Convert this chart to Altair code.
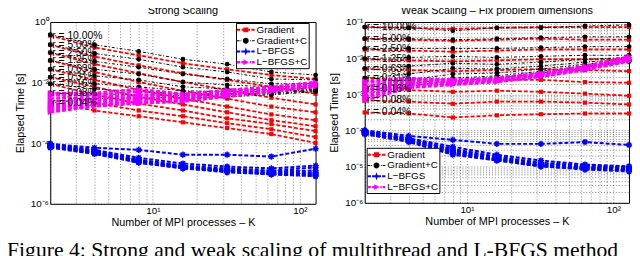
import altair as alt
import pandas as pd

# ---------------- data (log10 of elapsed time in seconds) ----------------
K = [2, 4, 8, 16, 32, 64, 128]
R_LABELS = ["r = 10.00%", "r = 5.00%", "r = 2.50%", "r = 1.25%", "r = 0.63%",
            "r = 0.31%", "r = 0.16%", "r = 0.08%", "r = 0.04%"]
SERIES = ["Gradient", "Gradient+C", "L\u2212BFGS", "L\u2212BFGS+C"]
COLORS = ["#ff0000", "#000000", "#0000ff", "#ff00ff"]

strong_grad = [
    [-0.45, -0.84, -1.10, -1.36, -1.56, -1.75, -1.88],
    [-0.75, -1.14, -1.43, -1.69, -1.91, -2.14, -2.37],
    [-1.01, -1.39, -1.69, -1.98, -2.24, -2.50, -2.72],
    [-1.27, -1.65, -1.98, -2.27, -2.53, -2.79, -2.98],
    [-1.56, -1.91, -2.24, -2.53, -2.79, -3.05, -3.24],
    [-1.82, -2.14, -2.47, -2.72, -2.98, -3.24, -3.44],
    [-2.04, -2.40, -2.69, -2.92, -3.18, -3.37, -3.60],
    [-2.34, -2.66, -2.92, -3.11, -3.34, -3.54, -3.80],
    [-2.66, -2.92, -3.11, -3.31, -3.50, -3.70, -3.99],
]
strong_gradc = [
    [-0.42, -0.75, -0.97, -1.23, -1.39, -1.65, -1.75],
    [-0.75, -1.04, -1.23, -1.49, -1.65, -1.88, -1.91],
    [-1.01, -1.30, -1.49, -1.72, -1.88, -2.04, -2.04],
    [-1.27, -1.56, -1.72, -1.98, -2.08, -2.14, -2.11],
    [-1.56, -1.78, -1.91, -2.14, -2.21, -2.24, -2.17],
    [-1.82, -2.04, -2.14, -2.27, -2.30, -2.30, -2.21],
    [-2.04, -2.21, -2.30, -2.37, -2.37, -2.34, -2.24],
    [-2.34, -2.37, -2.40, -2.43, -2.40, -2.37, -2.27],
    [-2.66, -2.53, -2.50, -2.50, -2.47, -2.40, -2.30],
]
strong_lbfgs = [
    [-4.02, -4.15, -4.22, -4.38, -4.38, -4.44, -4.18],
    [-4.02, -4.22, -4.48, -4.67, -4.77, -4.83, -4.74],
    [-4.05, -4.25, -4.54, -4.74, -4.83, -4.90, -4.80],
    [-4.05, -4.28, -4.57, -4.77, -4.87, -4.93, -4.90],
    [-4.09, -4.28, -4.57, -4.77, -4.90, -4.96, -4.96],
    [-4.09, -4.31, -4.61, -4.80, -4.90, -5.00, -5.00],
    [-4.12, -4.31, -4.61, -4.80, -4.93, -5.00, -5.03],
    [-4.12, -4.35, -4.64, -4.83, -4.93, -5.03, -5.06],
    [-4.15, -4.35, -4.64, -4.83, -4.96, -5.03, -5.09],
]
strong_lbfgsc = [
    [-2.34, -2.34, -2.21, -2.37, -2.24, -2.14, -1.98],
    [-2.43, -2.40, -2.30, -2.40, -2.27, -2.17, -2.01],
    [-2.53, -2.47, -2.40, -2.43, -2.30, -2.21, -2.04],
    [-2.63, -2.53, -2.47, -2.47, -2.34, -2.21, -2.04],
    [-2.72, -2.59, -2.53, -2.50, -2.37, -2.24, -2.08],
    [-2.79, -2.66, -2.56, -2.53, -2.40, -2.27, -2.08],
    [-2.85, -2.72, -2.63, -2.56, -2.40, -2.27, -2.11],
    [-2.92, -2.76, -2.66, -2.59, -2.43, -2.30, -2.11],
    [-2.98, -2.79, -2.69, -2.63, -2.47, -2.30, -2.14],
]

weak_grad = [
    [-1.14, -1.16, -1.19, -1.16, -1.14, -1.14, -1.14],
    [-1.46, -1.49, -1.52, -1.49, -1.46, -1.49, -1.49],
    [-1.76, -1.79, -1.82, -1.79, -1.76, -1.76, -1.76],
    [-2.03, -2.06, -2.09, -2.06, -2.03, -2.03, -2.03],
    [-2.30, -2.33, -2.36, -2.33, -2.30, -2.33, -2.36],
    [-2.55, -2.58, -2.63, -2.60, -2.60, -2.66, -2.68],
    [-2.85, -2.88, -2.93, -2.90, -2.93, -2.98, -3.04],
    [-3.17, -3.20, -3.26, -3.20, -3.20, -3.23, -3.28],
    [-3.50, -3.53, -3.64, -3.58, -3.55, -3.53, -3.53],
]
weak_gradc = [
    [-1.14, -1.16, -1.24, -1.16, -1.16, -1.11, -1.08],
    [-1.46, -1.46, -1.49, -1.46, -1.43, -1.41, -1.41],
    [-1.73, -1.73, -1.73, -1.73, -1.71, -1.68, -1.68],
    [-2.01, -1.98, -1.95, -1.98, -1.95, -1.92, -1.92],
    [-2.28, -2.22, -2.14, -2.17, -2.11, -2.03, -1.98],
    [-2.55, -2.44, -2.28, -2.30, -2.22, -2.11, -2.03],
    [-2.77, -2.60, -2.44, -2.41, -2.30, -2.17, -2.06],
    [-2.90, -2.71, -2.55, -2.49, -2.36, -2.22, -2.09],
    [-2.98, -2.77, -2.63, -2.55, -2.41, -2.25, -2.09],
]
weak_lbfgs = [
    [-3.99, -4.15, -4.26, -4.37, -4.37, -4.32, -4.40],
    [-4.02, -4.21, -4.45, -4.67, -4.83, -4.94, -4.99],
    [-4.02, -4.23, -4.51, -4.72, -4.89, -4.97, -5.02],
    [-4.04, -4.23, -4.53, -4.75, -4.91, -4.99, -5.05],
    [-4.04, -4.26, -4.56, -4.78, -4.94, -5.02, -5.08],
    [-4.07, -4.26, -4.59, -4.80, -4.97, -5.02, -5.08],
    [-4.07, -4.29, -4.61, -4.80, -4.97, -5.05, -5.10],
    [-4.10, -4.29, -4.64, -4.83, -4.99, -5.05, -5.10],
    [-4.10, -4.32, -4.67, -4.83, -4.99, -5.08, -5.13],
]
weak_lbfgsc = [
    [-2.63, -2.55, -2.60, -2.55, -2.41, -2.22, -1.95],
    [-2.68, -2.58, -2.60, -2.55, -2.41, -2.22, -1.98],
    [-2.77, -2.60, -2.63, -2.58, -2.44, -2.25, -1.98],
    [-2.82, -2.63, -2.66, -2.58, -2.44, -2.25, -2.01],
    [-2.90, -2.66, -2.66, -2.60, -2.47, -2.28, -2.03],
    [-2.96, -2.71, -2.68, -2.60, -2.47, -2.28, -2.03],
    [-3.04, -2.74, -2.71, -2.63, -2.49, -2.30, -2.06],
    [-3.09, -2.79, -2.71, -2.63, -2.49, -2.30, -2.06],
    [-3.17, -2.82, -2.74, -2.66, -2.52, -2.33, -2.09],
]

X_GRID = [2, 3, 4, 5, 6, 7, 8, 9, 10, 20, 30, 40, 50, 60, 70, 80, 90, 100]
X_EXPR = "datum.value == 10 ? '10\u00b9' : (datum.value == 100 ? '10\u00b2' : '')"
Y_GRID_STRONG = [1e-6, 1e-4, 1e-2, 1.0]
Y_EXPR_STRONG = ("datum.value > 0.5 ? '10\u2070' : (datum.value > 0.005 ? '10\u207b\u00b2' : "
                 "(datum.value > 0.00005 ? '10\u207b\u2074' : '10\u207b\u2076'))")
Y_GRID_WEAK = [float(f"{k}e{e}") for e in range(-6, -1) for k in range(1, 10)] + [0.1]
Y_EXPR_WEAK = ("datum.value == 1e-6 ? '10\u207b\u2076' : datum.value == 1e-5 ? '10\u207b\u2075' : "
               "datum.value == 1e-4 ? '10\u207b\u2074' : datum.value == 1e-3 ? '10\u207b\u00b3' : "
               "datum.value == 1e-2 ? '10\u207b\u00b2' : datum.value == 0.1 ? '10\u207b\u00b9' : ''")

CAPTION = "Figure 4: Strong and weak scaling of multithread and L-BFGS method"
FONT = "Liberation Sans"

ASTERISK = "M-1,0L1,0M0,-1L0,1M-0.7,-0.7L0.7,0.7M-0.7,0.7L0.7,-0.7"
STYLE = {
    SERIES[0]: dict(color=COLORS[0], dash=[4, 2], width=1.8, shape="square", size=18, filled=True),
    SERIES[1]: dict(color=COLORS[1], dash=[3, 2, 1, 2], width=1.0, shape="circle", size=24, filled=True),
    SERIES[2]: dict(color=COLORS[2], dash=[4, 2], width=2.0, shape=ASTERISK, size=40, filled=False),
    SERIES[3]: dict(color=COLORS[3], dash=[4, 2], width=2.5, shape="triangle-right", size=34, filled=True),
}
# legend samples (line + marker); unit = 6 px, sample spans 18 px
LEGEND_PATHS = [
    "M-1.5,-0.17H-0.95V0.17H-1.5Z M-0.7,-0.17H-0.15V0.17H-0.7Z M0.15,-0.17H0.7V0.17H0.15Z "
    "M0.95,-0.17H1.5V0.17H0.95Z M-0.42,-0.42H0.42V0.42H-0.42Z",
    "M-1.5,-0.085H-1.05V0.085H-1.5Z M-0.9,-0.085H-0.75V0.085H-0.9Z M0.75,-0.085H0.9V0.085H0.75Z "
    "M1.05,-0.085H1.5V0.085H1.05Z M-0.5,0A0.5,0.5 0 1,1 0.5,0A0.5,0.5 0 1,1 -0.5,0Z",
    "M-1.5,-0.17H-0.95V0.17H-1.5Z M0.95,-0.17H1.5V0.17H0.95Z M-0.75,-0.17H0.75V0.17H-0.75Z "
    "M0,-0.7L0.18,-0.18L0.7,0L0.18,0.18L0,0.7L-0.18,0.18L-0.7,0L-0.18,-0.18Z",
    "M-1.5,-0.2H-0.95V0.2H-1.5Z M-0.75,-0.2H-0.3V0.2H-0.75Z M0.65,-0.2H0.9V0.2H0.65Z "
    "M1.05,-0.2H1.5V0.2H1.05Z M-0.38,-0.5L0.52,0L-0.38,0.5Z",
]


def long_df(curve_sets):
    rows = []
    for s, curves in zip(SERIES, curve_sets):
        for i, c in enumerate(curves):
            for k, e in zip(K, c):
                rows.append({"series": s, "curve": i, "K": k, "time": 10.0 ** e})
    return pd.DataFrame(rows)


def label_df(grad_curves):
    return pd.DataFrame({"K": [K[0]] * len(R_LABELS),
                         "time": [10.0 ** c[0] for c in grad_curves],
                         "label": R_LABELS})


def panel(df, labs, title, ydom, yvals, yexpr, lx, ly, w, h):
    x = alt.X("K:Q", scale=alt.Scale(type="log", domain=[2, 128], nice=False),
              axis=alt.Axis(values=X_GRID, labelExpr=X_EXPR,
                            title="Number of MPI processes \u2013 K"))
    y = alt.Y("time:Q", scale=alt.Scale(type="log", domain=ydom, nice=False),
              axis=alt.Axis(values=yvals, labelExpr=yexpr, title="Elapsed Time [s]",
                            titlePadding=5))
    base = alt.Chart(df).encode(x=x, y=y)
    layers = []
    for s in SERIES:
        st = STYLE[s]
        sub = base.transform_filter(alt.datum.series == s)
        layers.append(sub.mark_line(color=st["color"], strokeDash=st["dash"],
                                    strokeWidth=st["width"]).encode(detail="curve:N"))
        layers.append(sub.mark_point(shape=st["shape"], size=st["size"], filled=st["filled"],
                                     color=st["color"], opacity=1, strokeWidth=1.5))
    labels = alt.Chart(labs).mark_text(align="left", baseline="middle", dx=2, fontSize=10.5,
                                       font=FONT, color="black").encode(x=x, y=y, text="label:N")
    leg = alt.Legend(orient="none", legendX=lx, legendY=ly, title=None,
                     strokeColor="black", fillColor="white", padding=1,
                     labelFont=FONT, labelFontSize=10, labelColor="black", labelOffset=5,
                     symbolSize=144, symbolOffset=3, symbolStrokeWidth=0, rowPadding=0,
                     cornerRadius=0)
    legend_layer = alt.Chart(df).transform_filter("false").mark_point(filled=True, opacity=1).encode(
        x=x, y=y,
        color=alt.Color("series:N", scale=alt.Scale(domain=SERIES, range=COLORS), legend=leg),
        shape=alt.Shape("series:N", scale=alt.Scale(domain=SERIES, range=LEGEND_PATHS), legend=leg),
    )
    return alt.layer(*layers, labels, legend_layer).properties(
        width=w, height=h,
        title=alt.TitleParams(title, font=FONT, fontSize=11, fontWeight="normal",
                              color="black", offset=1))


strong_df = long_df([strong_grad, strong_gradc, strong_lbfgs, strong_lbfgsc])
weak_df = long_df([weak_grad, weak_gradc, weak_lbfgs, weak_lbfgsc])

left = panel(strong_df, label_df(strong_grad), "Strong Scaling", [1e-6, 1.0],
             Y_GRID_STRONG, Y_EXPR_STRONG, 189, 1, 270, 185)
right = panel(weak_df, label_df(weak_grad), "Weak Scaling \u2013 Fix problem dimensions",
              [1e-6, 0.1], Y_GRID_WEAK, Y_EXPR_WEAK, 2, 128, 269, 184)

chart = alt.hconcat(left, right, spacing=6).resolve_scale(
    color="independent", shape="independent"
).resolve_legend(color="independent", shape="independent").properties(
    title=alt.TitleParams(CAPTION, orient="bottom", anchor="start", font="Liberation Serif",
                          fontSize=22, fontWeight="normal", color="black", offset=13, dx=-7),
    padding={"left": -1, "top": -6, "right": -4, "bottom": 0},
).configure_view(stroke="black", strokeWidth=1).configure_axis(
    grid=True, gridDash=[1, 2], gridColor="#000000", gridOpacity=0.6, gridWidth=0.8,
    ticks=False, domain=False, labelFont=FONT, labelFontSize=10, labelColor="black",
    labelPadding=2, titleFont=FONT, titleFontSize=11, titleFontWeight="normal",
    titleColor="black", titlePadding=1,
)

chart.save("out.html", embed_options={"renderer": "svg", "actions": False})
